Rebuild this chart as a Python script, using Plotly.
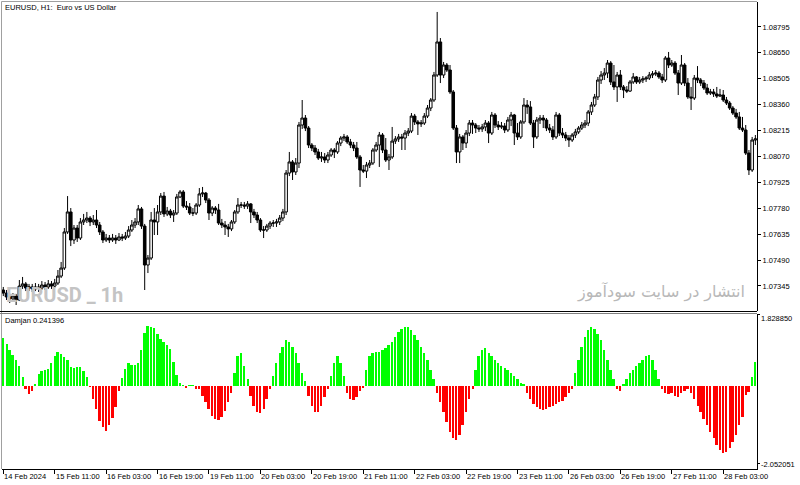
import plotly.graph_objects as go

# ---------------- data ----------------
bars = list(range(235))  # hourly bars, 14 Feb 2024 19:00 ... 28 Feb 2024 13:00

open_ = [
1.07322, 1.07305, 1.07283, 1.07272, 1.07288, 1.07266, 1.07344, 1.07356, 1.07333, 1.07339,
1.07328, 1.07339, 1.07333, 1.07350, 1.07339, 1.07356, 1.07344, 1.07361, 1.07400, 1.07445,
1.07647, 1.07759, 1.07602, 1.07669, 1.07613, 1.07703, 1.07714, 1.07725, 1.07703, 1.07714,
1.07686, 1.07647, 1.07602, 1.07613, 1.07602, 1.07613, 1.07602, 1.07619, 1.07613, 1.07624,
1.07658, 1.07686, 1.07703, 1.07776, 1.07680, 1.07462, 1.07501, 1.07714, 1.07703, 1.07759,
1.07848, 1.07748, 1.07764, 1.07742, 1.07753, 1.07843, 1.07871, 1.07792, 1.07787, 1.07753,
1.07753, 1.07798, 1.07860, 1.07865, 1.07826, 1.07753, 1.07781, 1.07770, 1.07697, 1.07686,
1.07675, 1.07664, 1.07703, 1.07759, 1.07798, 1.07798, 1.07792, 1.07804, 1.07759, 1.07742,
1.07714, 1.07658, 1.07658, 1.07680, 1.07697, 1.07697, 1.07703, 1.07725, 1.07759, 1.07977,
1.08039, 1.07983, 1.08033, 1.08246, 1.08285, 1.08229, 1.08134, 1.08117, 1.08095, 1.08061,
1.08067, 1.08050, 1.08078, 1.08106, 1.08095, 1.08145, 1.08173, 1.08179, 1.08151, 1.08134,
1.08117, 1.08067, 1.07994, 1.07988, 1.08022, 1.08033, 1.08106, 1.08134, 1.08190, 1.08106,
1.08050, 1.08067, 1.08156, 1.08168, 1.08179, 1.08173, 1.08201, 1.08212, 1.08296, 1.08263,
1.08252, 1.08257, 1.08296, 1.08341, 1.08386, 1.08526, 1.08711, 1.08526, 1.08582, 1.08554,
1.08431, 1.08229, 1.08095, 1.08179, 1.08145, 1.08201, 1.08257, 1.08246, 1.08229, 1.08224,
1.08235, 1.08257, 1.08201, 1.08302, 1.08246, 1.08235, 1.08240, 1.08218, 1.08274, 1.08302,
1.08201, 1.08179, 1.08263, 1.08358, 1.08347, 1.08257, 1.08179, 1.08274, 1.08285, 1.08274,
1.08229, 1.08218, 1.08179, 1.08302, 1.08201, 1.08190, 1.08173, 1.08162, 1.08190, 1.08207,
1.08229, 1.08246, 1.08257, 1.08319, 1.08358, 1.08403, 1.08498, 1.08526, 1.08537, 1.08593,
1.08487, 1.08459, 1.08526, 1.08459, 1.08442, 1.08436, 1.08487, 1.08515, 1.08487, 1.08498,
1.08504, 1.08509, 1.08526, 1.08532, 1.08537, 1.08515, 1.08498, 1.08621, 1.08582, 1.08593,
1.08537, 1.08481, 1.08582, 1.08481, 1.08403, 1.08397, 1.08509, 1.08498, 1.08481, 1.08453,
1.08425, 1.08431, 1.08420, 1.08408, 1.08414, 1.08386, 1.08369, 1.08341, 1.08313, 1.08291,
1.08229, 1.08218, 1.08089, 1.07994, 1.08162,
]

high = [
1.07339, 1.07322, 1.07294, 1.07305, 1.07300, 1.07378, 1.07395, 1.07367, 1.07356, 1.07356,
1.07361, 1.07356, 1.07372, 1.07367, 1.07378, 1.07372, 1.07384, 1.07434, 1.07479, 1.07669,
1.07848, 1.07781, 1.07686, 1.07686, 1.07725, 1.07748, 1.07759, 1.07736, 1.07742, 1.07770,
1.07703, 1.07658, 1.07636, 1.07630, 1.07636, 1.07630, 1.07641, 1.07636, 1.07647, 1.07680,
1.07714, 1.07725, 1.07798, 1.07787, 1.07692, 1.07518, 1.07759, 1.07781, 1.07798, 1.07865,
1.07871, 1.07787, 1.07776, 1.07770, 1.07860, 1.07882, 1.07882, 1.07820, 1.07809, 1.07781,
1.07809, 1.07893, 1.07899, 1.07871, 1.07837, 1.07792, 1.07792, 1.07804, 1.07720, 1.07708,
1.07692, 1.07714, 1.07770, 1.07837, 1.07815, 1.07815, 1.07820, 1.07809, 1.07776, 1.07759,
1.07725, 1.07680, 1.07692, 1.07708, 1.07714, 1.07720, 1.07742, 1.07776, 1.07994, 1.08095,
1.08050, 1.08061, 1.08263, 1.08386, 1.08302, 1.08240, 1.08145, 1.08134, 1.08112, 1.08095,
1.08089, 1.08095, 1.08117, 1.08117, 1.08156, 1.08184, 1.08196, 1.08190, 1.08168, 1.08151,
1.08151, 1.08078, 1.08022, 1.08039, 1.08050, 1.08117, 1.08151, 1.08207, 1.08201, 1.08173,
1.08084, 1.08235, 1.08184, 1.08196, 1.08196, 1.08218, 1.08229, 1.08313, 1.08308, 1.08274,
1.08274, 1.08313, 1.08358, 1.08397, 1.08543, 1.08879, 1.08733, 1.08599, 1.08593, 1.08582,
1.08442, 1.08246, 1.08196, 1.08190, 1.08218, 1.08274, 1.08274, 1.08257, 1.08246, 1.08252,
1.08274, 1.08268, 1.08319, 1.08313, 1.08268, 1.08263, 1.08257, 1.08291, 1.08319, 1.08308,
1.08257, 1.08274, 1.08397, 1.08386, 1.08380, 1.08274, 1.08291, 1.08302, 1.08302, 1.08285,
1.08252, 1.08240, 1.08319, 1.08313, 1.08229, 1.08207, 1.08190, 1.08201, 1.08224, 1.08240,
1.08263, 1.08274, 1.08330, 1.08375, 1.08420, 1.08515, 1.08548, 1.08565, 1.08610, 1.08604,
1.08582, 1.08543, 1.08554, 1.08470, 1.08464, 1.08498, 1.08537, 1.08520, 1.08515, 1.08520,
1.08520, 1.08543, 1.08548, 1.08554, 1.08548, 1.08532, 1.08632, 1.08655, 1.08610, 1.08604,
1.08554, 1.08638, 1.08593, 1.08509, 1.08459, 1.08526, 1.08576, 1.08509, 1.08498, 1.08476,
1.08448, 1.08448, 1.08459, 1.08448, 1.08442, 1.08403, 1.08380, 1.08352, 1.08336, 1.08319,
1.08291, 1.08246, 1.08106, 1.08179, 1.08190,
]

low = [
1.07288, 1.07266, 1.07249, 1.07260, 1.07238, 1.07260, 1.07328, 1.07316, 1.07316, 1.07311,
1.07316, 1.07311, 1.07322, 1.07322, 1.07328, 1.07328, 1.07333, 1.07350, 1.07389, 1.07434,
1.07636, 1.07568, 1.07580, 1.07591, 1.07602, 1.07686, 1.07697, 1.07680, 1.07686, 1.07669,
1.07630, 1.07585, 1.07591, 1.07585, 1.07591, 1.07580, 1.07596, 1.07596, 1.07602, 1.07613,
1.07647, 1.07669, 1.07686, 1.07664, 1.07322, 1.07417, 1.07490, 1.07630, 1.07630, 1.07742,
1.07731, 1.07736, 1.07725, 1.07703, 1.07742, 1.07837, 1.07781, 1.07770, 1.07742, 1.07736,
1.07742, 1.07787, 1.07843, 1.07809, 1.07714, 1.07736, 1.07748, 1.07686, 1.07669, 1.07630,
1.07619, 1.07652, 1.07692, 1.07748, 1.07781, 1.07776, 1.07776, 1.07697, 1.07725, 1.07697,
1.07647, 1.07613, 1.07647, 1.07664, 1.07675, 1.07675, 1.07686, 1.07708, 1.07742, 1.07960,
1.07938, 1.07966, 1.08005, 1.08224, 1.08212, 1.08117, 1.08100, 1.08078, 1.08050, 1.08039,
1.08033, 1.08033, 1.08067, 1.08061, 1.08084, 1.08128, 1.08156, 1.08140, 1.08117, 1.08100,
1.08056, 1.07899, 1.07977, 1.07949, 1.08005, 1.08022, 1.08095, 1.08011, 1.08089, 1.08039,
1.07994, 1.08056, 1.08140, 1.08151, 1.08106, 1.08106, 1.08184, 1.08201, 1.08246, 1.08190,
1.08235, 1.08246, 1.08285, 1.08324, 1.08375, 1.08515, 1.08481, 1.08509, 1.08543, 1.08420,
1.08218, 1.08033, 1.08033, 1.08106, 1.08117, 1.08184, 1.08196, 1.08201, 1.08207, 1.08207,
1.08212, 1.08145, 1.08190, 1.08229, 1.08218, 1.08224, 1.08201, 1.08207, 1.08240, 1.08134,
1.08162, 1.08168, 1.08252, 1.08308, 1.08246, 1.08117, 1.08168, 1.08252, 1.08229, 1.08212,
1.08201, 1.08162, 1.08168, 1.08184, 1.08173, 1.08156, 1.08123, 1.08151, 1.08173, 1.08196,
1.08218, 1.08229, 1.08240, 1.08302, 1.08347, 1.08386, 1.08476, 1.08498, 1.08509, 1.08470,
1.08442, 1.08375, 1.08442, 1.08397, 1.08425, 1.08431, 1.08476, 1.08476, 1.08476, 1.08481,
1.08487, 1.08498, 1.08509, 1.08520, 1.08504, 1.08481, 1.08487, 1.08565, 1.08571, 1.08526,
1.08414, 1.08470, 1.08464, 1.08392, 1.08330, 1.08386, 1.08481, 1.08464, 1.08442, 1.08414,
1.08414, 1.08403, 1.08397, 1.08403, 1.08375, 1.08358, 1.08330, 1.08302, 1.08280, 1.08218,
1.08207, 1.08078, 1.07966, 1.07983, 1.08134,
]

close = [
1.07305, 1.07283, 1.07272, 1.07288, 1.07266, 1.07344, 1.07356, 1.07333, 1.07339, 1.07328,
1.07339, 1.07333, 1.07350, 1.07339, 1.07356, 1.07344, 1.07361, 1.07400, 1.07445, 1.07647,
1.07759, 1.07602, 1.07669, 1.07613, 1.07703, 1.07714, 1.07725, 1.07703, 1.07714, 1.07686,
1.07647, 1.07602, 1.07613, 1.07602, 1.07613, 1.07602, 1.07619, 1.07613, 1.07624, 1.07658,
1.07686, 1.07703, 1.07776, 1.07680, 1.07462, 1.07501, 1.07714, 1.07703, 1.07759, 1.07848,
1.07748, 1.07764, 1.07742, 1.07753, 1.07843, 1.07871, 1.07792, 1.07787, 1.07753, 1.07753,
1.07798, 1.07860, 1.07865, 1.07826, 1.07753, 1.07781, 1.07770, 1.07697, 1.07686, 1.07675,
1.07664, 1.07703, 1.07759, 1.07798, 1.07798, 1.07792, 1.07804, 1.07759, 1.07742, 1.07714,
1.07658, 1.07658, 1.07680, 1.07697, 1.07697, 1.07703, 1.07725, 1.07759, 1.07977, 1.08039,
1.07983, 1.08033, 1.08246, 1.08285, 1.08229, 1.08134, 1.08117, 1.08095, 1.08061, 1.08067,
1.08050, 1.08078, 1.08106, 1.08095, 1.08145, 1.08173, 1.08179, 1.08151, 1.08134, 1.08117,
1.08067, 1.07994, 1.07988, 1.08022, 1.08033, 1.08106, 1.08134, 1.08190, 1.08106, 1.08050,
1.08067, 1.08156, 1.08168, 1.08179, 1.08173, 1.08201, 1.08212, 1.08296, 1.08263, 1.08252,
1.08257, 1.08296, 1.08341, 1.08386, 1.08526, 1.08711, 1.08526, 1.08582, 1.08554, 1.08431,
1.08229, 1.08095, 1.08179, 1.08145, 1.08201, 1.08257, 1.08246, 1.08229, 1.08224, 1.08235,
1.08257, 1.08201, 1.08302, 1.08246, 1.08235, 1.08240, 1.08218, 1.08274, 1.08302, 1.08201,
1.08179, 1.08263, 1.08358, 1.08347, 1.08257, 1.08179, 1.08274, 1.08285, 1.08274, 1.08229,
1.08218, 1.08179, 1.08302, 1.08201, 1.08190, 1.08173, 1.08162, 1.08190, 1.08207, 1.08229,
1.08246, 1.08257, 1.08319, 1.08358, 1.08403, 1.08498, 1.08526, 1.08537, 1.08593, 1.08487,
1.08459, 1.08526, 1.08459, 1.08442, 1.08436, 1.08487, 1.08515, 1.08487, 1.08498, 1.08504,
1.08509, 1.08526, 1.08532, 1.08537, 1.08515, 1.08498, 1.08621, 1.08582, 1.08593, 1.08537,
1.08481, 1.08582, 1.08481, 1.08403, 1.08397, 1.08509, 1.08498, 1.08481, 1.08453, 1.08425,
1.08431, 1.08420, 1.08408, 1.08414, 1.08386, 1.08369, 1.08341, 1.08313, 1.08291, 1.08229,
1.08218, 1.08089, 1.07994, 1.08162, 1.08168,
]

damjan = [
1.47, 1.28, 1.10, 0.95, 0.79, 0.61, 0.28, -0.09, -0.24, -0.15,
0.06, 0.37, 0.47, 0.49, 0.53, 0.71, 0.92, 1.05, 0.98, 0.89,
0.79, 0.59, 0.55, 0.59, 0.59, 0.47, 0.28, -0.03, -0.40, -0.70,
-1.07, -1.25, -1.36, -1.19, -0.98, -0.63, -0.15, 0.24, 0.52, 0.70,
0.64, 0.64, 0.70, 1.10, 1.62, 1.82885, 1.80, 1.78, 1.59, 1.43,
1.35, 1.25, 1.13, 0.74, 0.34, 0.09, 0.03, -0.05, 0.03, 0.03,
-0.09, -0.10, -0.30, -0.50, -0.70, -0.90, -1.00, -1.04, -0.95, -0.75,
-0.50, -0.20, 0.40, 0.90, 1.00, 0.60, 0.20, -0.30, -0.60, -0.80,
-0.82, -0.70, -0.40, -0.10, 0.30, 0.70, 1.00, 1.20, 1.40, 1.35,
1.20, 1.00, 0.70, 0.40, 0.15, -0.30, -0.60, -0.80, -0.80, -0.60,
-0.35, -0.10, 0.30, 0.70, 0.90, 0.70, 0.30, -0.20, -0.40, -0.43,
-0.35, -0.15, -0.05, 0.50, 0.90, 1.00, 1.05, 1.05, 1.10, 1.15,
1.25, 1.35, 1.50, 1.65, 1.75, 1.80, 1.80, 1.70, 1.55, 1.40,
1.20, 1.00, 0.80, 0.50, 0.20, -0.20, -0.50, -0.80, -1.10, -1.40,
-1.60, -1.65, -1.50, -1.20, -0.80, -0.40, -0.10, 0.50, 0.90, 1.10,
1.15, 1.00, 0.90, 0.80, 0.70, 0.60, 0.55, 0.50, 0.40, 0.30,
0.20, 0.10, 0.05, -0.20, -0.40, -0.55, -0.65, -0.70, -0.73, -0.70,
-0.65, -0.60, -0.55, -0.50, -0.45, -0.35, -0.20, -0.10, 0.40, 0.80,
1.20, 1.50, 1.70, 1.80, 1.75, 1.60, 1.40, 1.10, 0.80, 0.50,
0.20, -0.10, -0.15, 0.05, 0.20, 0.40, 0.50, 0.60, 0.70, 0.80,
0.90, 0.95, 0.80, 0.50, 0.20, -0.10, -0.20, -0.25, -0.20, -0.30,
-0.35, -0.20, -0.15, -0.10, -0.20, -0.40, -0.60, -0.80, -1.00, -1.20,
-1.40, -1.60, -1.80, -1.95, -2.052051, -2.00, -1.90, -1.70, -1.50, -1.20,
-0.94, -0.27, -0.17, 0.27, 0.74,
]

price_ticks = [1.07345, 1.07490, 1.07635, 1.07780, 1.07925, 1.08070,
               1.08215, 1.08360, 1.08505, 1.08650, 1.08795]
time_tick_bars = [0, 16, 32, 48, 64, 80, 96, 112, 128, 144, 160, 176, 192, 208, 224]
time_tick_labels = ["14 Feb 2024", "15 Feb 11:00", "16 Feb 03:00", "16 Feb 19:00",
                    "19 Feb 11:00", "20 Feb 03:00", "20 Feb 19:00", "21 Feb 11:00",
                    "22 Feb 03:00", "22 Feb 19:00", "23 Feb 11:00", "26 Feb 03:00",
                    "26 Feb 19:00", "27 Feb 11:00", "28 Feb 03:00"]
ind_scale_labels = ["1.828850", "-2.052051"]
chart_title = "EURUSD, H1:  Euro vs US Dollar"
ind_title = "Damjan 0.241396"
wm_symbol = "EURUSD _ 1h"
wm_site = "انتشار در سایت سودآموز"

assert len(open_) == len(high) == len(low) == len(close) == len(damjan) == len(bars)

# ---------------- layout geometry (pixels) ----------------
W, H = 800, 485
ML, MR, MT, MB = 2, 43, 2, 16
PW, PH = W - ML - MR, H - MT - MB


def py(p):  # pixel row -> paper y
    return 1 - (p - MT) / PH


def px(p):  # pixel column -> paper x
    return (p - ML) / PW


FONT = "Liberation Sans, Arial, sans-serif"
FS = 7.5
GREEN, RED = "#00ff00", "#ff0000"

fig = go.Figure()
fig.add_trace(go.Candlestick(
    x=bars, open=open_, high=high, low=low, close=close,
    xaxis="x", yaxis="y",
    increasing=dict(line=dict(color="#000000", width=1), fillcolor="#ffffff"),
    decreasing=dict(line=dict(color="#000000", width=1), fillcolor="#000000"),
    whiskerwidth=0, showlegend=False, hoverinfo="skip",
))
fig.add_trace(go.Bar(
    x=bars, y=damjan, xaxis="x2", yaxis="y2",
    marker=dict(color=[GREEN if v >= 0 else RED for v in damjan], line=dict(width=0)),
    width=0.62, showlegend=False, hoverinfo="skip",
))

xr = [-0.4, -0.4 + PW / 3.214]
fig.update_layout(
    width=W, height=H,
    margin=dict(l=ML, r=MR, t=MT, b=MB, pad=0),
    paper_bgcolor="#ffffff", plot_bgcolor="#ffffff",
    font=dict(family=FONT, size=FS, color="#000000"),
    bargap=0, boxgap=0.2, boxgroupgap=0,
    xaxis=dict(domain=[0, 1], anchor="y", range=xr, rangeslider=dict(visible=False),
               showticklabels=False, showgrid=False, zeroline=False, showline=False,
               ticks=""),
    xaxis2=dict(domain=[0, 1], anchor="y2", range=xr, matches="x",
                tickvals=time_tick_bars, showticklabels=False, ticks="outside",
                ticklen=4, tickcolor="#000000", showgrid=False, zeroline=False,
                showline=True, linecolor="#000000", linewidth=1),
    yaxis=dict(domain=[py(311), 1], anchor="x", side="right",
               range=[1.08946 - 0.000056 * 311, 1.08946 - 0.000056 * 2],
               tickvals=price_ticks, tickformat=".5f", ticks="outside", ticklen=3,
               tickcolor="#000000", showgrid=False, zeroline=False, showline=True,
               linecolor="#000000", linewidth=1, automargin=False,
               tickfont=dict(family=FONT, size=FS)),
    yaxis2=dict(domain=[0, py(314)], anchor="x2", side="right",
                range=[-(469 - 386) * 0.0305, (386 - 314) * 0.0305],
                showticklabels=False, ticks="", showgrid=False, zeroline=False,
                showline=True, linecolor="#000000", linewidth=1, automargin=False),
)

shapes = [
    # frame borders
    dict(type="line", xref="paper", yref="paper", x0=px(1.5), x1=px(757), y0=py(1.5), y1=py(1.5),
         line=dict(color="#a0a0a0", width=1)),
    dict(type="line", xref="paper", yref="paper", x0=px(1.5), x1=px(1.5), y0=py(1.5), y1=py(469),
         line=dict(color="#a0a0a0", width=1)),
    dict(type="line", xref="paper", yref="paper", x0=px(0), x1=px(757), y0=py(311.5), y1=py(311.5),
         line=dict(color="#000000", width=1)),
    dict(type="line", xref="paper", yref="paper", x0=px(0), x1=px(757), y0=py(313.5), y1=py(313.5),
         line=dict(color="#808080", width=1)),
    # indicator scale tick marks
    dict(type="line", xref="paper", yref="paper", x0=px(757), x1=px(760), y0=py(314.5), y1=py(314.5),
         line=dict(color="#000000", width=1)),
    dict(type="line", xref="paper", yref="paper", x0=px(757), x1=px(760), y0=py(463.5), y1=py(463.5),
         line=dict(color="#000000", width=1)),
]
fig.update_layout(shapes=shapes)

ann = []
ann.append(dict(text=chart_title, xref="paper", yref="paper", x=px(3), y=py(8),
                xanchor="left", yanchor="middle", showarrow=False,
                font=dict(family=FONT, size=FS, color="#000000")))
ann.append(dict(text=ind_title, xref="paper", yref="paper", x=px(3), y=py(320),
                xanchor="left", yanchor="middle", showarrow=False,
                font=dict(family=FONT, size=FS, color="#000000")))
ann.append(dict(text="<b>" + wm_symbol + "</b>", xref="paper", yref="paper", x=px(4), y=py(295),
                xanchor="left", yanchor="middle", showarrow=False,
                font=dict(family="Roboto, Liberation Sans, sans-serif",
                          size=20, color="#c4c4c4")))
ann.append(dict(text=wm_site, xref="paper", yref="paper", x=px(747), y=py(292),
                xanchor="right", yanchor="middle", showarrow=False,
                font=dict(family="DejaVu Sans, sans-serif", size=16, color="#b8b8b8")))
ann.append(dict(text=ind_scale_labels[0], xref="paper", yref="paper", x=px(759), y=py(318),
                xanchor="left", yanchor="middle", showarrow=False,
                font=dict(family=FONT, size=FS, color="#000000")))
ann.append(dict(text=ind_scale_labels[1], xref="paper", yref="paper", x=px(759), y=py(464),
                xanchor="left", yanchor="middle", showarrow=False,
                font=dict(family=FONT, size=FS, color="#000000")))
for b, lab in zip(time_tick_bars, time_tick_labels):
    ann.append(dict(text=lab, xref="x2", yref="paper", x=b, y=py(476.5),
                    xanchor="left", yanchor="middle", showarrow=False, xshift=-1,
                    font=dict(family=FONT, size=FS, color="#000000")))
fig.update_layout(annotations=ann)

fig.write_html("out.html")
